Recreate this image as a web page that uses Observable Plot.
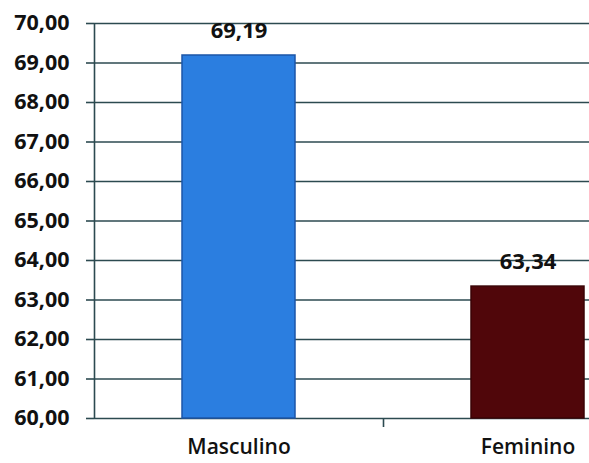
<!DOCTYPE html>
<html>
<head>
<meta charset="utf-8">
<script src="https://cdn.jsdelivr.net/npm/d3@7"></script>
<script src="https://cdn.jsdelivr.net/npm/@observablehq/plot@0.6"></script>
<style>
  html, body { margin: 0; padding: 0; background: #fff; overflow: hidden; }
</style>
</head>
<body>
<div id="chart"></div>
<script>
const categories = ["Masculino", "Feminino"];
const values = [69.19, 63.34];
const barColors = ["#2b7ee0", "#50060a"];
const barStrokes = ["#1c56a8", "#3a0306"];
const yTicks = [60, 61, 62, 63, 64, 65, 66, 67, 68, 69, 70];

const data = categories.map((c, i) => ({category: c, value: values[i], fill: barColors[i], stroke: barStrokes[i]}));
const fmt = d => d.toFixed(2).replace(".", ",");
const gridColor = "#2c4a50";
const font = "'Open Sans', sans-serif";
const halfStep = 144.5;

const chart = Plot.plot({
  width: 589,
  height: 463,
  marginLeft: 94,
  marginRight: 0,
  marginTop: 23,
  marginBottom: 45,
  style: {fontFamily: font, overflow: "hidden", background: "#fff"},
  x: {type: "band", domain: categories, range: [94, 672], paddingInner: 0.609, paddingOuter: 0.3045, label: null},
  y: {domain: [60, 70], label: null},
  marks: [
    Plot.ruleY(yTicks, {stroke: gridColor, strokeWidth: 1.6}),
    Plot.barY(data, {x: "category", y1: 60, y2: "value", fill: "fill", stroke: "stroke", strokeWidth: 1.5}),
    Plot.ruleX([categories[0]], {dx: -halfStep, y1: 60, y2: 70, stroke: gridColor, strokeWidth: 1.6}),
    Plot.axisY({ticks: yTicks, tickSize: 8, tickPadding: 17, tickFormat: fmt, stroke: gridColor, strokeWidth: 1.6, fontSize: 21.5, fontWeight: "bold", fill: "#111", label: null}),
    Plot.axisX({ticks: [categories[0]], tickSize: 9, dx: halfStep, text: null, stroke: gridColor, strokeWidth: 1.6, label: null}),
    Plot.axisX({tickSize: 0, tickPadding: 21, fontSize: 21, fontWeight: 600, fill: "#111", label: null}),
    Plot.text(data, {x: "category", y: "value", text: d => fmt(d.value), dy: -25, fontSize: 22, fontWeight: "bold", fill: "#111"})
  ]
});
document.getElementById("chart").append(chart);
</script>
</body>
</html>
